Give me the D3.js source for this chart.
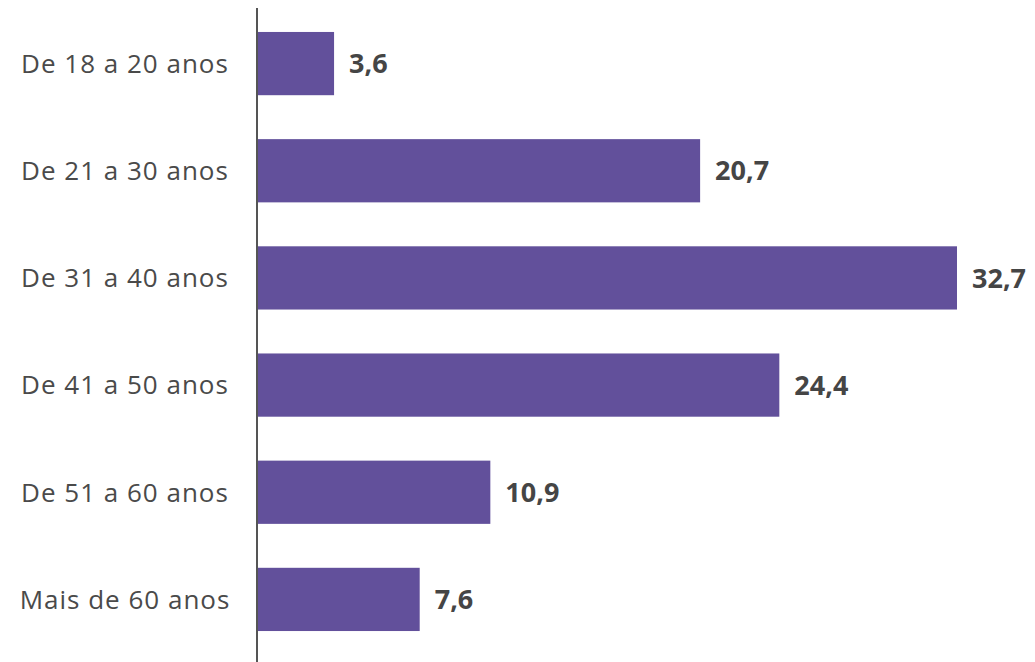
<!DOCTYPE html>
<html><head><meta charset="utf-8">
<script src="https://cdn.jsdelivr.net/npm/d3@7"></script>
<style>body{margin:0;background:#fff}svg{display:block}</style>
</head><body>
<svg id="c" width="1035" height="662"></svg>
<script>
const categories = ["De 18 a 20 anos","De 21 a 30 anos","De 31 a 40 anos","De 41 a 50 anos","De 51 a 60 anos","Mais de 60 anos"];
const values = [3.6, 20.7, 32.7, 24.4, 10.9, 7.6];
const valueLabels = ["3,6","20,7","32,7","24,4","10,9","7,6"];

const svg = d3.select("#c");
const x0 = 257;
const x = d3.scaleLinear().domain([0, 32.7]).range([x0, 957]);
const y = d3.scaleBand().domain(categories).range([10, 653]).paddingInner(0.41).paddingOuter(0.205);

svg.selectAll("rect.bar").data(values).join("rect")
  .attr("class","bar")
  .attr("x", x(0)).attr("y", (d,i)=>y(categories[i]))
  .attr("width", d=>x(d)-x(0)).attr("height", y.bandwidth())
  .attr("fill", "#62509b");

svg.append("line").attr("x1", x0).attr("x2", x0).attr("y1", 8).attr("y2", 662)
  .attr("stroke", "#555").attr("stroke-width", 2);

svg.selectAll("text.cat").data(categories).join("text")
  .attr("class","cat")
  .attr("x", 125).attr("y", d=>y(d)+y.bandwidth()/2)
  .attr("dy","0.36em").attr("text-anchor","middle")
  .attr("font-family","'Open Sans', sans-serif").attr("font-size", 26)
  .attr("letter-spacing", 1)
  .attr("fill","#4a4a4a").text(d=>d);

svg.selectAll("text.val").data(values).join("text")
  .attr("class","val")
  .attr("x", d=>x(d)+15).attr("y", (d,i)=>y(categories[i])+y.bandwidth()/2)
  .attr("dy","0.36em")
  .attr("font-family","'Open Sans', sans-serif").attr("font-weight","bold").attr("font-size", 27)
  .attr("fill","#454545").text((d,i)=>valueLabels[i]);
</script>
</body></html>
